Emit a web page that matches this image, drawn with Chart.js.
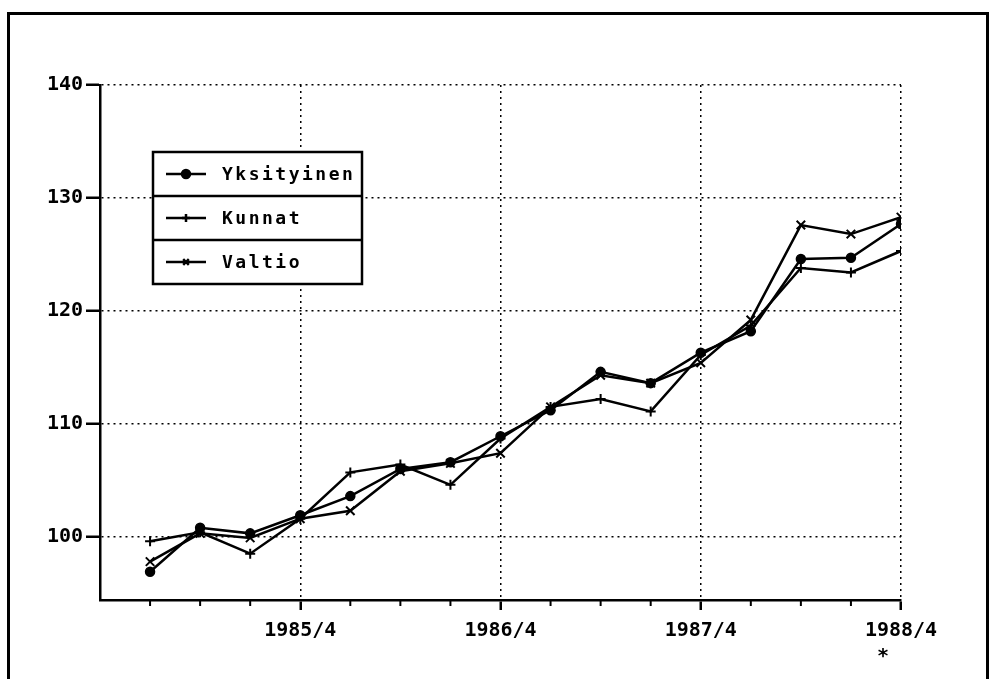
<!DOCTYPE html>
<html>
<head>
<meta charset="utf-8">
<script src="https://cdn.jsdelivr.net/npm/chart.js@4.4.0/dist/chart.umd.min.js"></script>
<style>
  html, body { margin: 0; padding: 0; background: #fff; }
  #wrap { position: relative; width: 991px; height: 679px; overflow: hidden; }
  #frame { position: absolute; left: 7px; top: 12px; width: 982px; height: 720px; border: 3px solid #000; box-sizing: border-box; }
  #chart { position: absolute; left: 0; top: 0; }
</style>
</head>
<body>
<div id="wrap">
  <div id="frame"></div>
  <canvas id="chart" width="991" height="679"></canvas>
</div>
<script>
// neljännekset 1985/1 - 1988/4
const quarters = ["1985/1", "1985/2", "1985/3", "1985/4", "1986/1", "1986/2", "1986/3", "1986/4",
                  "1987/1", "1987/2", "1987/3", "1987/4", "1988/1", "1988/2", "1988/3", "1988/4"];
const seriesNames = ["Yksityinen", "Kunnat", "Valtio"];
const yksityinen = [96.9, 100.8, 100.3, 101.9, 103.6, 106.0, 106.6, 108.9, 111.2, 114.6, 113.6, 116.3, 118.2, 124.6, 124.7, 127.7];
const kunnat     = [99.6, 100.4, 98.5, 101.6, 105.7, 106.4, 104.6, 108.7, 111.5, 112.2, 111.1, 116.1, 118.7, 123.8, 123.4, 125.3];
const valtio     = [97.8, 100.3, 99.9, 101.6, 102.3, 105.8, 106.5, 107.4, 111.5, 114.3, 113.6, 115.4, 119.2, 127.6, 126.8, 128.3];
const yTicks = [100, 110, 120, 130, 140];
const lastNote = "*   ";

const toPoints = arr => arr.map((v, i) => ({ x: i + 1, y: v }));
const isYear = v => v > 0 && v % 4 === 0;

Chart.defaults.font.family = "'DejaVu Sans Mono', monospace";
Chart.defaults.font.weight = "bold";
Chart.defaults.font.size = 20;
Chart.defaults.color = "#000";

// pienet väliviivat x-akselille
const minorTicks = {
    id: "minorTicks",
    afterDraw(chart) {
        const ctx = chart.ctx;
        const xs = chart.scales.x;
        ctx.save();
        ctx.strokeStyle = "#000";
        ctx.lineWidth = 2;
        for (let v = 1; v < quarters.length; v++) {
            if (isYear(v)) continue;
            const px = xs.getPixelForValue(v);
            ctx.beginPath();
            ctx.moveTo(px, xs.top);
            ctx.lineTo(px, xs.top + 6);
            ctx.stroke();
        }
        ctx.restore();
    },
};

// selite laatikossa
const boxLegend = {
    id: "boxLegend",
    afterDraw(chart) {
        const ctx = chart.ctx;
        const left = 153, top = 152, w = 209, rowH = 44;
        ctx.save();
        ctx.fillStyle = "#fff";
        ctx.fillRect(left, top, w, rowH * 3);
        ctx.strokeStyle = "#000";
        ctx.lineWidth = 2.5;
        ctx.strokeRect(left, top, w, rowH * 3);
        chart.data.datasets.forEach((ds, i) => {
            const cy = top + rowH * i + rowH / 2;
            if (i > 0) {
                ctx.beginPath();
                ctx.moveTo(left, top + rowH * i);
                ctx.lineTo(left + w, top + rowH * i);
                ctx.stroke();
            }
            ctx.beginPath();
            ctx.lineWidth = 2.5;
            ctx.moveTo(left + 13, cy);
            ctx.lineTo(left + 53, cy);
            ctx.stroke();
            ctx.fillStyle = "#000";
            Chart.helpers.drawPoint(ctx, {
                pointStyle: ds.pointStyle,
                radius: 4,
                borderWidth: 2,
            }, left + 33, cy);
            ctx.fillStyle = "#000";
            ctx.font = "bold 18px 'DejaVu Sans Mono', monospace";
            ctx.letterSpacing = "2.5px";
            ctx.textBaseline = "middle";
            ctx.textAlign = "left";
            ctx.fillText(ds.label, left + 69, cy + 1);
            ctx.letterSpacing = "0px";
        });
        ctx.restore();
    },
};

const lineCtx = document.getElementById("chart").getContext("2d");
const lineChart = new Chart(lineCtx, {
    type: "line",
    data: {
        datasets: [
            {
                label: seriesNames[0],
                data: toPoints(yksityinen),
                borderColor: "#000",
                backgroundColor: "#000",
                borderWidth: 2.5,
                pointStyle: "circle",
                pointRadius: 4.5,
                pointBorderWidth: 1.5,
                tension: 0,
            },
            {
                label: seriesNames[1],
                data: toPoints(kunnat),
                borderColor: "#000",
                backgroundColor: "#000",
                borderWidth: 2.5,
                pointStyle: "cross",
                pointRadius: 5,
                pointBorderWidth: 2,
                tension: 0,
            },
            {
                label: seriesNames[2],
                data: toPoints(valtio),
                borderColor: "#000",
                backgroundColor: "#000",
                borderWidth: 2.5,
                pointStyle: "crossRot",
                pointRadius: 6,
                pointBorderWidth: 2,
                tension: 0,
            },
        ],
    },
    options: {
        responsive: false,
        animation: false,
        layout: { padding: { top: 85, right: 90, bottom: 0, left: 0 } },
        scales: {
            x: {
                type: "linear",
                min: 0,
                max: quarters.length,
                afterFit: function (scale) { scale.height = 79; },
                ticks: {
                    stepSize: 1,
                    autoSkip: false,
                    maxRotation: 0,
                    padding: 8,
                    font: { size: 20, weight: "bold", lineHeight: 1.3 },
                    callback: function (value) {
                        if (!isYear(value)) return "";
                        const lbl = quarters[value - 1];
                        return value === quarters.length ? [lbl, lastNote] : lbl;
                    },
                },
                grid: {
                    color: ctx => (ctx.tick && isYear(ctx.tick.value) ? "#000" : "rgba(0,0,0,0)"),
                    tickColor: ctx => (ctx.tick && isYear(ctx.tick.value) ? "#000" : "rgba(0,0,0,0)"),
                    lineWidth: 1.5,
                    tickWidth: 2.5,
                    tickLength: 10,
                    tickBorderDash: [],
                },
                border: { color: "#000", width: 2.5, dash: [2, 4] },
            },
            y: {
                min: 94.4,
                max: 140,
                afterFit: function (scale) { scale.width = 100; },
                afterBuildTicks: function (scale) {
                    scale.ticks = yTicks.map(v => ({ value: v }));
                },
                ticks: {
                    padding: 3,
                    font: { size: 20, weight: "bold" },
                },
                grid: {
                    color: "#000",
                    lineWidth: 1.5,
                    tickColor: "#000",
                    tickWidth: 2.5,
                    tickLength: 14,
                    tickBorderDash: [],
                },
                border: { color: "#000", width: 2.5, dash: [2, 4] },
            },
        },
        plugins: {
            legend: { display: false },
            tooltip: { enabled: false },
        },
    },
    plugins: [minorTicks, boxLegend],
});
</script>
</body>
</html>
